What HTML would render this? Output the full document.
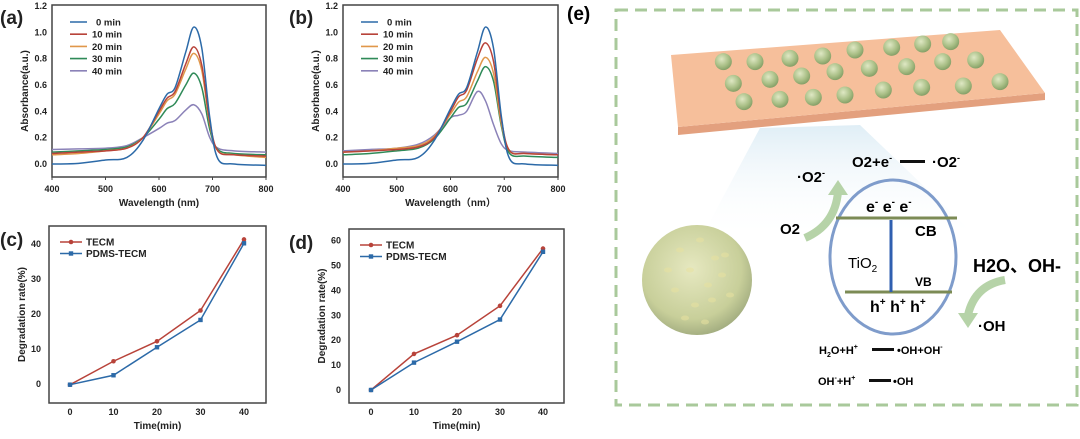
<!DOCTYPE html>
<html><head><meta charset="utf-8"><style>
body{margin:0;background:#fff;width:1080px;height:434px;overflow:hidden;font-family:"Liberation Sans",sans-serif}
svg text{font-family:"Liberation Sans","Noto Sans CJK SC",sans-serif;font-weight:bold}
</style></head><body>
<svg id="fig" width="1080" height="434" viewBox="0 0 1080 434" xmlns="http://www.w3.org/2000/svg">
<defs>
<radialGradient id="ball" cx="0.4" cy="0.35" r="0.7"><stop offset="0" stop-color="#dfe8c4"/><stop offset="0.6" stop-color="#a9bf86"/><stop offset="1" stop-color="#7f9a62"/></radialGradient>
<radialGradient id="big" cx="0.45" cy="0.4" r="0.65"><stop offset="0" stop-color="#e6e8c0"/><stop offset="0.7" stop-color="#c8cf9a"/><stop offset="1" stop-color="#9aa57a"/></radialGradient>
<linearGradient id="beam" x1="0" y1="0" x2="0" y2="1"><stop offset="0" stop-color="#dcecf5" stop-opacity="0.9"/><stop offset="1" stop-color="#fff" stop-opacity="0"/></linearGradient>
</defs>
<g id="charts"></g>
<g id="panel-e">
<text x="567" y="20" font-size="19">(e)</text>
<rect x="616" y="10" width="461" height="395" fill="none" stroke="#a9c99b" stroke-width="3" stroke-dasharray="12,7"/>
<polygon points="760,128 860,125 980,240 700,240" fill="url(#beam)"/>
<polygon points="678,127 1045,93 1045,100 678,135" fill="#e3a07e"/>
<polygon points="671,55 1000,30 1045,93 678,127" fill="#f6bf9b"/>
<g id="balls"></g>
<circle cx="697" cy="280" r="55" fill="url(#big)"/>
<g id="spots" fill="#e8e2a0" opacity="0.55"></g>
<path d="M805,238 Q835,225 838,192" fill="none" stroke="#b6d3a8" stroke-width="8"/>
<polygon points="828,195 838,180 848,195" fill="#b6d3a8"/>
<path d="M1005,280 Q975,285 968,315" fill="none" stroke="#b6d3a8" stroke-width="8"/>
<polygon points="958,313 968,328 978,313" fill="#b6d3a8"/>
<ellipse cx="893" cy="257" rx="63" ry="77" fill="none" stroke="#7f9ccb" stroke-width="3"/>
<line x1="836" y1="218" x2="957" y2="218" stroke="#7c8b55" stroke-width="3"/>
<line x1="845" y1="292" x2="952" y2="292" stroke="#7c8b55" stroke-width="3"/>
<line x1="891" y1="220" x2="891" y2="292" stroke="#2f5fb0" stroke-width="3"/>
<text x="866" y="212" font-size="16">e<tspan font-size="10" dy="-7">-</tspan><tspan dy="7"> e</tspan><tspan font-size="10" dy="-7">-</tspan><tspan dy="7"> e</tspan><tspan font-size="10" dy="-7">-</tspan></text>
<text x="915" y="236" font-size="15">CB</text>
<text x="848" y="268" font-size="15" style="font-weight:normal">TiO<tspan font-size="10" dy="4">2</tspan></text>
<text x="915" y="286" font-size="12">VB</text>
<text x="870" y="312" font-size="16">h<tspan font-size="10" dy="-7">+</tspan><tspan dy="7"> h</tspan><tspan font-size="10" dy="-7">+</tspan><tspan dy="7"> h</tspan><tspan font-size="10" dy="-7">+</tspan></text>
<text x="852" y="167" font-size="15">O2+e<tspan font-size="9" dy="-6">-</tspan></text>
<rect x="900" y="160" width="25" height="3" fill="#111"/>
<text x="932" y="167" font-size="15">·O2<tspan font-size="9" dy="-6">-</tspan></text>
<text x="797" y="182" font-size="15">·O2<tspan font-size="9" dy="-6">-</tspan></text>
<text x="780" y="234" font-size="15">O2</text>
<text x="973" y="272" font-size="18">H2O、OH-</text>
<text x="978" y="331" font-size="15">·OH</text>
<text x="819" y="354" font-size="11">H<tspan font-size="7" dy="3">2</tspan><tspan dy="-3">O+H</tspan><tspan font-size="7" dy="-5">+</tspan></text>
<rect x="872" y="348" width="22" height="3" fill="#111"/>
<text x="897" y="354" font-size="11">•OH+OH<tspan font-size="7" dy="-5">-</tspan></text>
<text x="818" y="385" font-size="11">OH<tspan font-size="7" dy="-5">-</tspan><tspan dy="5">+H</tspan><tspan font-size="7" dy="-5">+</tspan></text>
<rect x="869" y="379" width="22" height="3" fill="#111"/>
<text x="893" y="385" font-size="11">•OH</text>
</g>
</svg>
<script>
const NS="http://www.w3.org/2000/svg";
const wl=[400,450,500,540,570,600,615,630,650,665,680,695,710,740,800];
const seriesNames=["0 min","10 min","20 min","30 min","40 min"];
const specA0=[0.0,0.005,0.03,0.05,0.18,0.42,0.53,0.58,0.85,1.04,0.88,0.35,0.04,0.0,-0.01];
const specA10=[0.08,0.09,0.1,0.12,0.2,0.4,0.5,0.55,0.76,0.89,0.75,0.32,0.1,0.07,0.06];
const specA20=[0.07,0.08,0.1,0.12,0.2,0.38,0.48,0.53,0.72,0.84,0.71,0.3,0.1,0.07,0.05];
const specA30=[0.09,0.1,0.11,0.13,0.2,0.34,0.42,0.46,0.6,0.69,0.58,0.26,0.11,0.08,0.07];
const specA40=[0.11,0.115,0.12,0.14,0.2,0.27,0.31,0.33,0.41,0.45,0.38,0.2,0.12,0.1,0.09];
const specB0=[0.0,0.005,0.03,0.05,0.18,0.42,0.53,0.58,0.85,1.04,0.88,0.35,0.04,0.0,-0.01];
const specB10=[0.09,0.1,0.11,0.13,0.2,0.4,0.51,0.56,0.8,0.92,0.78,0.33,0.1,0.08,0.07];
const specB20=[0.09,0.1,0.12,0.14,0.21,0.38,0.47,0.51,0.7,0.81,0.69,0.3,0.1,0.08,0.07];
const specB30=[0.07,0.08,0.1,0.12,0.19,0.35,0.43,0.46,0.63,0.74,0.63,0.28,0.08,0.06,0.05];
const specB40=[0.1,0.11,0.12,0.15,0.22,0.35,0.37,0.4,0.55,0.48,0.3,0.15,0.1,0.09,0.08];
const wlTicks=[400,500,600,700,800];
const absTicks=[0,0.2,0.4,0.6,0.8,1.0,1.2];
const times=[0,10,20,30,40];
const tecmC=[-0.2,6.5,12.2,21,41.3];
const pdmsC=[-0.2,2.5,10.5,18.3,40.2];
const tecmD=[0,14.5,22,33.8,56.8];
const pdmsD=[0,11,19.4,28.3,55.5];
const degTicksC=[0,10,20,30,40];
const degTicksD=[0,10,20,30,40,50,60];
const specColors=["#2c6aa8","#b8433a","#e0974a","#2f8a58","#8b82b8"];
const root=document.getElementById('charts');
function el(tag,attrs,parent){const e=document.createElementNS(NS,tag);for(const k in attrs)e.setAttribute(k,attrs[k]);(parent||root).appendChild(e);return e;}
function txt(x,y,s,size,anchor,parent,rot){const t=el('text',{x:x,y:y,'font-size':size,'text-anchor':anchor||'start',fill:'#222'},parent);if(rot)t.setAttribute('transform','rotate(-90 '+x+' '+y+')');t.textContent=s;return t;}
function smooth(pts){let d='M'+pts[0][0]+','+pts[0][1];for(let i=0;i<pts.length-1;i++){const p0=pts[Math.max(0,i-1)],p1=pts[i],p2=pts[i+1],p3=pts[Math.min(pts.length-1,i+2)];const c1=[p1[0]+(p2[0]-p0[0])/6,p1[1]+(p2[1]-p0[1])/6],c2=[p2[0]-(p3[0]-p1[0])/6,p2[1]-(p3[1]-p1[1])/6];d+=' C'+c1+' '+c2+' '+p2;}return d;}
function axesBox(g,x0,y0,x1,y1){const r=el('rect',{x:x0,y:y0,width:x1-x0,height:y1-y0,fill:'none',stroke:'#444','stroke-width':1.5},g);}
function spectrum(id,label,lx,x0,x1,specs){
 const g=el('g',{});
 const y0=5,y1=177;const X=v=>x0+(v-400)/400*(x1-x0);const Y=v=>164-v/1.2*158;
 txt(lx,24,label,19,'start',g);
 axesBox(g,x0,y0,x1,y1);
 wlTicks.forEach(v=>{const t=txt(X(v),192,v,9,'middle',g);el('line',{x1:X(v),x2:X(v),y1:y1,y2:y1+3,stroke:'#444'},g);});
 absTicks.forEach(v=>{const t=txt(x0-5,Y(v)+3,v.toFixed(1),9,'end',g);});
 const xt=txt((x0+x1)/2,206,id==='a'?'Wavelength (nm)':'Wavelength（nm）',10,'middle',g);
 const yt=txt(x0-24,91,'Absorbance(a.u.)',10,'middle',g,true);
 for(let i=specs.length-1;i>=0;i--){const p=el('path',{d:smooth(wl.map((w,j)=>[X(w),Y(specs[i][j])])),fill:'none',stroke:specColors[i],'stroke-width':1.5},g);}
 seriesNames.forEach((n,i)=>{const ly=22+i*12.2;el('line',{x1:x0+18,x2:x0+35,y1:ly,y2:ly,stroke:specColors[i],'stroke-width':1.6},g);const t=txt(x0+40+(i==0?4:0),ly+3.5,n,9.5,'start',g);});
}
function degChart(id,label,lx,x0,x1,y0,y1,xz,xf,yz,per,ticks,s1,s2){
 const g=el('g',{});
 const X=v=>xz+v/40*(xf-xz);const Y=v=>yz-v/10*per;
 txt(lx,y0+20,label,19,'start',g);
 axesBox(g,x0,y0,x1,y1);
 times.forEach(v=>{const t=txt(X(v),y1+12,v,9,'middle',g);});
 ticks.forEach(v=>{const t=txt(x0-8,Y(v)+3,v,9,'end',g);});
 const xt=txt((x0+x1)/2,429,'Time(min)',10,'middle',g);
 const yt=txt(x0-24,(y0+y1)/2,'Degradation rate(%)',10,'middle',g,true);
 [[s1,'#b8433a','TECM'],[s2,'#2c6aa8','PDMS-TECM']].forEach(([s,c,n],k)=>{
  const pl=el('polyline',{points:times.map((t,i)=>X(t)+','+Y(s[i])).join(' '),fill:'none',stroke:c,'stroke-width':1.5},g);
  times.forEach((t,i)=>{const m=k==0?el('circle',{cx:X(t),cy:Y(s[i]),r:2.3,fill:c},g):el('rect',{x:X(t)-2.2,y:Y(s[i])-2.2,width:4.4,height:4.4,fill:c},g);});
  const ly=y0+16+k*11.5;el('line',{x1:x0+11,x2:x0+33,y1:ly,y2:ly,stroke:c,'stroke-width':1.5},g);
  k==0?el('circle',{cx:x0+22,cy:ly,r:2.3,fill:c},g):el('rect',{x:x0+19.8,y:ly-2.2,width:4.4,height:4.4,fill:c},g);
  const t=txt(x0+37,ly+3.5,n,10,'start',g);
 });
}
spectrum('a','(a)',0,52,266,[specA0,specA10,specA20,specA30,specA40]);
spectrum('b','(b)',289,343,558,[specB0,specB10,specB20,specB30,specB40]);
degChart('c','(c)',0,49,266,226,403,70,244,384,35,degTicksC,tecmC,pdmsC);
degChart('d','(d)',289,349,564,229,403,371,543,390,24.9,degTicksD,tecmD,pdmsD);
const ballPos=[[370,185],[465,185],[570,175],[668,168],[765,150],[875,142],[968,132],[1052,125],[400,250],[510,238],[605,228],[705,215],[808,205],[920,200],[1028,185],[1127,180],[432,305],[540,298],[640,292],[735,285],[850,270],[965,262],[1090,258],[1200,245]];
const bg=document.getElementById('balls');
ballPos.forEach(p=>{const c=document.createElementNS(NS,'circle');c.setAttribute('cx',600+p[0]/3);c.setAttribute('cy',p[1]/3);c.setAttribute('r',8.5);c.setAttribute('fill','url(#ball)');


bg.appendChild(c);});
const spotPos=[[680,250],[700,240],[715,258],[690,270],[708,285],[675,290],[722,275],[695,305],[712,300],[668,270],[730,295],[685,318],[705,322],[725,255]];
const sp=document.getElementById('spots');
spotPos.forEach(p=>{const c=document.createElementNS(NS,'ellipse');c.setAttribute('cx',p[0]);c.setAttribute('cy',p[1]);c.setAttribute('rx',4);c.setAttribute('ry',2.5);


sp.appendChild(c);});
</script>
</body></html>
